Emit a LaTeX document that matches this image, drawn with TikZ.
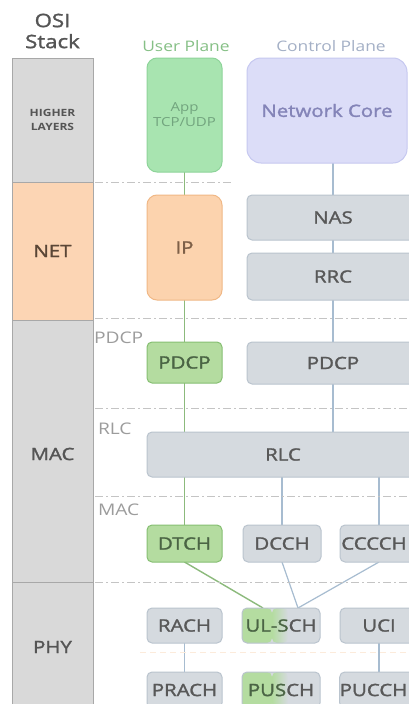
\documentclass[tikz,border=0pt]{standalone}
\usepackage{fontspec}
\setmainfont{Open Sans}[FakeStretch=1.2]
\newfontfamily\medfont{Open Sans}[FakeStretch=1.2, FakeBold=1.6]
\pgfdeclarelayer{bg}
\pgfsetlayers{bg,main}
\definecolor{osigray}{HTML}{D9D9D9}
\definecolor{osiedge}{HTML}{A8A8A8}
\definecolor{netfill}{HTML}{FCD5B4}
\definecolor{appfill}{HTML}{A8E4B0}
\definecolor{appedge}{HTML}{8ED49A}
\definecolor{apptext}{HTML}{72A47E}
\definecolor{ipfill}{HTML}{FCD3AE}
\definecolor{ipedge}{HTML}{F0B886}
\definecolor{iptext}{HTML}{7E6048}
\definecolor{ugfill}{HTML}{B4DCA0}
\definecolor{ugedge}{HTML}{86BF72}
\definecolor{ugtext}{HTML}{4A6444}
\definecolor{corefill}{HTML}{DCDDF8}
\definecolor{coreedge}{HTML}{C6C8F0}
\definecolor{coretext}{HTML}{8484B8}
\definecolor{gfill}{HTML}{D5DADF}
\definecolor{gedge}{HTML}{BAC4CE}
\definecolor{gline}{HTML}{A7BCD0}
\definecolor{uline}{HTML}{8CBA7C}
\definecolor{sepline}{HTML}{C4C4C4}
\definecolor{tgray}{HTML}{585858}
\definecolor{tlabel}{HTML}{9C9C9C}
\definecolor{ositext}{HTML}{555555}
\definecolor{uptext}{HTML}{86C086}
\definecolor{cptext}{HTML}{A4B0C6}
\definecolor{nettext}{HTML}{5A4636}
\definecolor{faintor}{HTML}{FCEBDB}
\begin{document}
\begin{tikzpicture}[x=1pt,y=-1pt,
  every node/.style={inner sep=0pt, outer sep=0pt, align=center},
  osibox/.style={fill=osigray, draw=osiedge, line width=1pt},
  osilabel/.style={font=\medfont\fontsize{17}{19}\selectfont, text=ositext},
  box/.style={rounded corners=5pt, line width=1pt, font=\medfont\fontsize{17}{19}\selectfont},
  gbox/.style={box, fill=gfill, draw=gedge, text=tgray},
  ubox/.style={box, fill=ugfill, draw=ugedge, text=ugtext},
  seprule/.style={draw=sepline, line width=0.9pt, dash pattern=on 8pt off 3pt on 2pt off 3pt},
  ucon/.style={draw=uline, line width=1.4pt},
  ccon/.style={draw=gline, line width=1.2pt},
  layerlabel/.style={anchor=west, font=\fontsize{16}{18}\selectfont, text=tlabel}
]
\useasboundingbox (0,0) rectangle (409,704);
\clip (0,0) rectangle (409,704);
\begin{pgfonlayer}{bg}
\fill[white] (0,0) rectangle (409,704);
\end{pgfonlayer}

% OSI stack column
\node[font=\medfont\fontsize{18.5}{23}\selectfont, text=ositext] (osihead) at (52.5,31) {OSI\\[-2pt]Stack};
\draw[osibox] (12,58) rectangle (93,182);
\draw[osibox, fill=netfill] (12,182) rectangle (93,320);
\draw[osibox] (12,320) rectangle (93,582);
\draw[osibox] (12,582) rectangle (93,712);
\node[font=\fontsize{10}{14.5}\selectfont\bfseries, text=ositext] (hl) at (52.5,120) {HIGHER\\LAYERS};
\node[osilabel, text=nettext] (net) at (52.5,251) {NET};
\node[osilabel] (mac) at (52.5,454) {MAC};
\node[osilabel] (phy) at (52.5,647) {PHY};

% plane headers
\node[font=\fontsize{14.5}{16}\selectfont, text=uptext] (uph) at (186,46) {User Plane};
\node[font=\fontsize{14.5}{16}\selectfont, text=cptext] (cph) at (331,46) {Control Plane};

% separators
\draw[seprule] (95,182) -- (232,182);
\draw[seprule] (95,318) -- (409,318);
\draw[seprule] (95,408) -- (409,408);
\draw[seprule] (95,496) -- (409,496);
\draw[seprule] (95,582) -- (409,582);
\draw[draw=faintor, line width=0.8pt, dash pattern=on 6pt off 4pt] (140,652) -- (409,652);

% layer labels
\node[layerlabel] (lpdcp) at (94,338) {PDCP};
\node[layerlabel] (lrlc) at (98,429) {RLC};
\node[layerlabel] (lmac) at (98,510) {MAC};

% user plane
\node[box, rounded corners=10pt, fill=appfill, draw=appedge, text=apptext,
      font=\fontsize{12.5}{15}\selectfont, minimum width=75pt, minimum height=114pt] (app) at (184.5,115) {App\\TCP/UDP};
\node[box, rounded corners=10pt, fill=ipfill, draw=ipedge, text=iptext,
      minimum width=75pt, minimum height=105pt] (ip) at (184.5,247.5) {IP};
\node[ubox, minimum width=75pt, minimum height=41pt] (pdcpu) at (184.5,362.5) {PDCP};
\node[ubox, minimum width=75pt, minimum height=37pt] (dtch) at (184.5,543.5) {DTCH};

% control plane
\node[box, rounded corners=14pt, fill=corefill, draw=coreedge, text=coretext,
      minimum width=160pt, minimum height=105pt] (core) at (327,110.5) {Network Core};
\node[gbox, minimum width=172pt, minimum height=45pt] (nas) at (333,217.5) {NAS};
\node[gbox, minimum width=172pt, minimum height=47pt] (rrc) at (333,276.5) {RRC};
\node[gbox, minimum width=172pt, minimum height=42pt] (pdcpc) at (333,363) {PDCP};
\node[gbox, minimum width=272pt, minimum height=45pt] (rlc) at (283,454.5) {RLC};
\node[gbox, minimum width=78pt, minimum height=37pt] (dcch) at (282,543.5) {DCCH};
\node[gbox, minimum width=78pt, minimum height=37pt] (ccch) at (379,543.5) {CCCCH\hspace*{10pt}};

% phy
\node[gbox, minimum width=75pt, minimum height=35pt] (rach) at (184.5,625.5) {RACH};
\node[gbox, minimum width=78pt, minimum height=35pt,
  path picture={\fill[ugfill] (path picture bounding box.south west) rectangle ([xshift=30pt]path picture bounding box.north west);
    \shade[left color=ugfill, right color=gfill] ([xshift=30pt]path picture bounding box.south west) rectangle ([xshift=46pt]path picture bounding box.north west);}]
  (ulsch) at (281,625.5) {{\color{ugtext}UL-S}CH};
\node[gbox, minimum width=78pt, minimum height=35pt] (uci) at (379,625.5) {UCI};
\node[gbox, minimum width=75pt, minimum height=36pt] (prach) at (184.5,690) {PRACH};
\node[gbox, minimum width=78pt, minimum height=36pt,
  path picture={\fill[ugfill] (path picture bounding box.south west) rectangle ([xshift=30pt]path picture bounding box.north west);
    \shade[left color=ugfill, right color=gfill] ([xshift=30pt]path picture bounding box.south west) rectangle ([xshift=46pt]path picture bounding box.north west);}]
  (pusch) at (281,690) {{\color{ugtext}PUS}CH};
\node[gbox, minimum width=78pt, minimum height=36pt] (pucch) at (379,690) {PUCCH\hspace*{11pt}};

% connectors
\begin{pgfonlayer}{bg}
\draw[ucon] (app.south) -- (ip.north);
\draw[ucon] (ip.south) -- (pdcpu.north);
\draw[ucon] (pdcpu.south) -- (dtch.north);
\draw[ccon] (core.south -| nas.north) -- (nas.north);
\draw[ccon] (nas.south) -- (rrc.north);
\draw[ccon] (rrc.south) -- (pdcpc.north);
\draw[ccon] (pdcpc.south) -- (pdcpc.south |- rlc.north);
\draw[ccon] (rlc.south -| dcch.north) -- (dcch.north);
\draw[ccon] (rlc.south -| ccch.north) -- (ccch.north);
\draw[ucon] (dtch.south) -- ([xshift=-18pt]ulsch.north);
\draw[ccon] (dcch.south) -- ([xshift=17pt]ulsch.north);
\draw[ccon] (ccch.south) -- ([xshift=17pt]ulsch.north);
\draw[ccon] (rach.south) -- (prach.north);
\draw[ccon] (uci.south) -- (pucch.north);
\end{pgfonlayer}
\end{tikzpicture}
\end{document}
